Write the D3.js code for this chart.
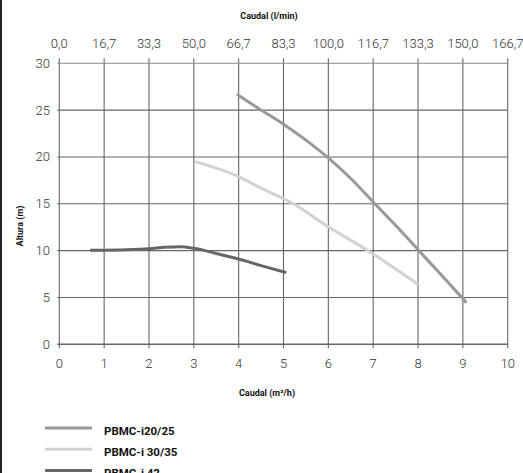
<!DOCTYPE html>
<html><head><meta charset="utf-8">
<script src="https://cdn.jsdelivr.net/npm/d3@7"></script>
<style>
html,body{margin:0;padding:0;background:#fff;}
svg{display:block;font-family:Roboto,"DejaVu Sans",sans-serif;}
</style></head>
<body>
<svg id="c" width="523" height="473"></svg>
<script>
// ---- data ----
const xTicks = [0,1,2,3,4,5,6,7,8,9,10];
const yTicks = [0,5,10,15,20,25,30];
const topTickLabels = ["0,0","16,7","33,3","50,0","66,7","83,3","100,0","116,7","133,3","150,0","166,7"];
const seriesNames = ["PBMC-i20/25","PBMC-i 30/35","PBMC-i 42"];
const seriesColors = ["#999999","#d2d2d2","#666666"];
const s2025 = [[3.96,26.7],[4.47,25.1],[5,23.5],[5.5,21.8],[6,19.9],[6.5,17.7],[7,15.2],[7.5,12.7],[8,10.1],[8.5,7.5],[9.08,4.45]];
const s3035 = [[3.03,19.5],[4,17.9],[4.47,16.75],[5.22,15.0],[6,12.55],[6.85,10.1],[8,6.4]];
const s42 = [[0.69,10.05],[1.5,10.1],[2,10.2],[2.35,10.35],[2.7,10.42],[3,10.25],[3.5,9.7],[4,9.1],[4.5,8.4],[5.06,7.65]];
const seriesData = [s2025, s3035, s42];

const svg = d3.select("#c");
const x = d3.scaleLinear().domain([0,10]).range([59.3,507.7]);
const y = d3.scaleLinear().domain([0,30]).range([344.3,63.3]);

// left border
svg.append("line").attr("x1",1).attr("x2",1).attr("y1",0).attr("y2",473)
  .attr("stroke","#222").attr("stroke-width",2);

// grid
const g = svg.append("g");
g.selectAll(".vg").data(xTicks).enter().append("line")
  .attr("x1",d=>x(d)).attr("x2",d=>x(d)).attr("y1",y(30)-5).attr("y2",y(0)+4)
  .attr("stroke","#666").attr("stroke-width",1.1);
g.selectAll(".hg").data(yTicks).enter().append("line")
  .attr("x1",x(0)-2).attr("x2",x(10)).attr("y1",d=>y(d)).attr("y2",d=>y(d))
  .attr("stroke",d=>d===30?"#888":"#666").attr("stroke-width",d=>d===0?1.4:1.1);

// axes labels
const tickFont = {size:"13px", weight:300, fill:"#333"};
svg.append("g").selectAll("text").data(xTicks).enter().append("text")
  .attr("x",d=>x(d)).attr("y",368).attr("text-anchor","middle")
  .attr("font-size",tickFont.size).attr("font-weight",tickFont.weight).attr("fill",tickFont.fill)
  .text(d=>d);
svg.append("g").selectAll("text").data(xTicks).enter().append("text")
  .attr("x",d=>x(d)).attr("y",47.5).attr("text-anchor","middle")
  .attr("font-size",tickFont.size).attr("font-weight",tickFont.weight).attr("fill",tickFont.fill)
  .text((d,i)=>topTickLabels[i]);
svg.append("g").selectAll("text").data(yTicks).enter().append("text")
  .attr("x",50).attr("y",d=>y(d)+4.5).attr("text-anchor","end")
  .attr("font-size",tickFont.size).attr("font-weight",tickFont.weight).attr("fill",tickFont.fill)
  .text(d=>d);

svg.append("text").attr("x",269).attr("y",19).attr("text-anchor","middle")
  .attr("font-size","9px").attr("font-weight",700).attr("fill","#111").text("Caudal (l/min)");
svg.append("text").attr("x",267).attr("y",396).attr("text-anchor","middle")
  .attr("font-size","9px").attr("font-weight",700).attr("fill","#111").text("Caudal (m³/h)");
svg.append("text").attr("transform","translate(23,226) rotate(-90)").attr("text-anchor","middle")
  .attr("font-size","9px").attr("font-weight",700).attr("fill","#111").text("Altura (m)");

// curves
const line = d3.line().x(d=>x(d[0])).y(d=>y(d[1])).curve(d3.curveMonotoneX);
svg.append("g").selectAll("path").data(seriesData).enter().append("path")
  .attr("d",line).attr("fill","none")
  .attr("stroke",(d,i)=>seriesColors[i]).attr("stroke-width",3).attr("stroke-linecap","butt");

// legend
const lg = svg.append("g").selectAll("g").data(seriesNames).enter().append("g")
  .attr("transform",(d,i)=>`translate(0,${428+i*21.3})`);
lg.append("line").attr("x1",45).attr("x2",92).attr("y1",0).attr("y2",0)
  .attr("stroke",(d,i)=>seriesColors[i]).attr("stroke-width",3);
lg.append("text").attr("x",104).attr("y",6.5).attr("font-size","11.5px").attr("font-weight",700)
  .attr("fill","#111").text(d=>d);
</script>
</body></html>
